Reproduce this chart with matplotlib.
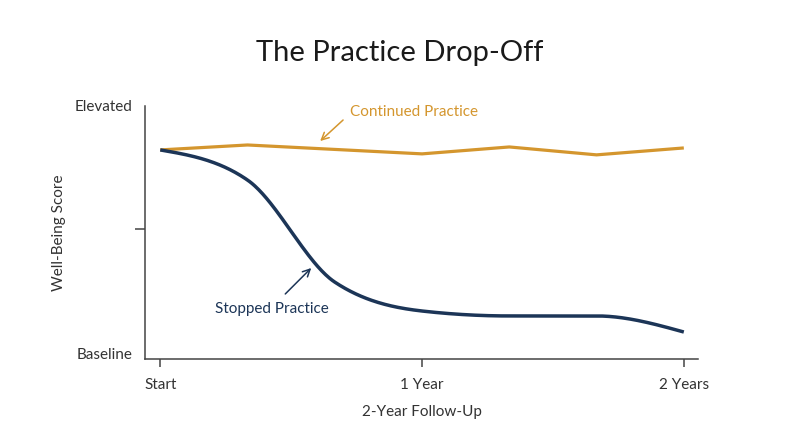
import matplotlib
matplotlib.use("Agg")
import matplotlib.pyplot as plt
import numpy as np

plt.rcParams['font.family'] = ['Lato', 'DejaVu Sans']

# months since start
months = [0, 4, 8, 12, 16, 20, 24]
continued = [82.2, 84.2, 82.4, 80.6, 83.4, 80.2, 83.0]
stopped = [82.2, 70.0, 28.7, 17.0, 15.0, 15.0, 8.5]

x_ticks = [0, 12, 24]
x_labels = ["Start", "1 Year", "2 Years"]
y_ticks = [0, 50, 100]
y_labels = ["Baseline", "", "Elevated"]

orange = "#D4962E"
navy = "#1C3557"
axis_col = "#444444"
text_col = "#333333"


def monotone_x(x, y, n=400):
    # same slope rules as d3.curveMonotoneX
    x = np.asarray(x, float)
    y = np.asarray(y, float)
    h = np.diff(x)
    s = np.diff(y) / h
    m = np.zeros_like(y)
    for i in range(1, len(x) - 1):
        p = (s[i - 1] * h[i] + s[i] * h[i - 1]) / (h[i - 1] + h[i])
        m[i] = (np.sign(s[i - 1]) + np.sign(s[i])) * min(abs(s[i - 1]), abs(s[i]), 0.5 * abs(p))
    m[0] = (3 * s[0] - m[1]) / 2
    m[-1] = (3 * s[-1] - m[-2]) / 2
    xs = np.linspace(x[0], x[-1], n)
    ys = np.empty_like(xs)
    for j, xv in enumerate(xs):
        i = min(np.searchsorted(x, xv, side='right') - 1, len(x) - 2)
        t = (xv - x[i]) / h[i]
        h00 = 2 * t**3 - 3 * t**2 + 1
        h10 = t**3 - 2 * t**2 + t
        h01 = -2 * t**3 + 3 * t**2
        h11 = t**3 - t**2
        ys[j] = h00 * y[i] + h10 * h[i] * m[i] + h01 * y[i + 1] + h11 * h[i] * m[i + 1]
    return xs, ys


fig = plt.figure(figsize=(8, 4.47), dpi=100)
ax = fig.add_axes([0.18125, 0.197, 0.69125, 0.566])

ax.plot(months, continued, color=orange, lw=2.3, solid_capstyle='butt')
sx, sy = monotone_x(months, stopped)
ax.plot(sx, sy, color=navy, lw=2.5, solid_capstyle='butt')

ax.set_xlim(-0.7, 24.65)
ax.set_ylim(-2.4, 100)

for s in ['top', 'right']:
    ax.spines[s].set_visible(False)
for s in ['left', 'bottom']:
    ax.spines[s].set_color(axis_col)
    ax.spines[s].set_linewidth(1.1)

ax.set_xticks(x_ticks)
ax.set_xticklabels(x_labels, fontsize=11, color=text_col)
ax.set_yticks(y_ticks)
ax.set_yticklabels(y_labels, fontsize=11, color=text_col)
ax.tick_params(axis='x', length=6, width=1.1, color=axis_col, pad=8)
ax.tick_params(axis='y', length=7, width=1.1, color=axis_col, pad=2)
yt = ax.yaxis.get_major_ticks()
yt[0].tick1line.set_visible(False)
yt[2].tick1line.set_visible(False)

ax.set_xlabel("2-Year Follow-Up", fontsize=11, color=text_col, labelpad=9)
ax.set_ylabel("Well-Being Score", fontsize=11, color=text_col, labelpad=6)

fig.text(0.5, 0.882, "The Practice Drop-Off", ha='center', va='center',
         fontsize=21, color="#1a1a1a")

ax.text(8.7, 97.6, "Continued Practice", fontsize=11, color=orange,
        ha='left', va='center')
ax.annotate("", xy=(7.33, 85.8), xytext=(8.38, 94.3),
            arrowprops=dict(arrowstyle='->', color=orange, lw=1.1,
                            shrinkA=0, shrinkB=0, mutation_scale=13))
ax.text(5.13, 17.8, "Stopped Practice", fontsize=11, color=navy,
        ha='center', va='center')
ax.annotate("", xy=(6.92, 34.4), xytext=(5.73, 23.9),
            arrowprops=dict(arrowstyle='->', color=navy, lw=1.1,
                            shrinkA=0, shrinkB=0, mutation_scale=13))

fig.savefig("out.png", dpi=100)
